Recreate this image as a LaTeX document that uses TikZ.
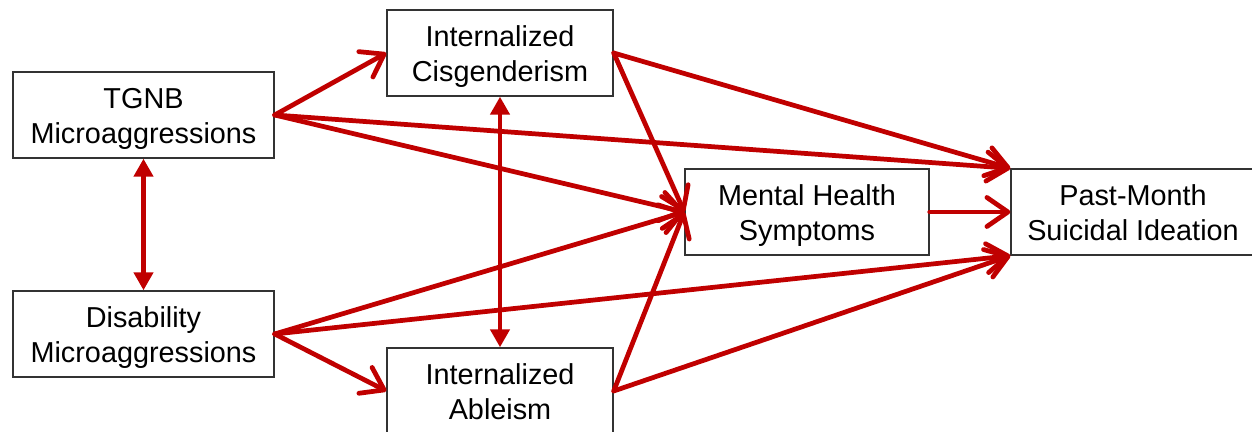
\documentclass[tikz,border=0pt]{standalone}
\usepackage{fontspec}
\setmainfont{Liberation Sans}
\usetikzlibrary{arrows.meta}
\definecolor{pathred}{RGB}{192,0,0}
\newcommand{\boxlines}[1]{\raisebox{-2.4pt}[\height][\depth]{\begin{tabular}{@{}c@{}}#1\end{tabular}}}
\begin{document}
\begin{tikzpicture}[
    box/.style={draw=black!80, line width=0.8pt, minimum height=1.72cm, inner sep=0pt,
                font=\fontsize{16.4}{19.8}\selectfont},
    effect/.style={draw=pathred, line width=2.7pt, line cap=round,
                   -{Straight Barb[length=0.42cm, width=0.58cm, line cap=round, line join=round]}},
    covary/.style={draw=pathred, line width=2.5pt,
                   {Triangle[length=0.36cm, width=0.38cm]}-{Triangle[length=0.36cm, width=0.38cm]}}
  ]
  \useasboundingbox (0,0) rectangle (25.04,8.64);

  % Predictors
  \node[box, minimum width=5.22cm] (tgnb) at (2.87,6.34) {\boxlines{TGNB\\Microaggressions}};
  \node[box, minimum width=5.22cm] (dis)  at (2.87,1.96) {\boxlines{Disability\\Microaggressions}};

  % Mediators
  \node[box, minimum width=4.52cm] (cis) at (10.0,7.58) {\boxlines{Internalized\\Cisgenderism}};
  \node[box, minimum width=4.52cm] (abl) at (10.0,0.82) {\boxlines{Internalized\\Ableism}};
  \node[box, minimum width=4.88cm] (mh)  at (16.14,4.40) {\boxlines{Mental Health\\Symptoms}};

  % Outcome
  \node[box, minimum width=4.88cm] (psi) at (22.66,4.40) {\boxlines{Past-Month\\Suicidal Ideation}};

  \draw[covary] (tgnb.south) -- (dis.north);
  \draw[covary] (cis.south) -- (abl.north);

  \draw[effect] (tgnb.east) -- (cis.west);
  \draw[effect] (tgnb.east) -- (mh.west);
  \draw[effect] (tgnb.east) -- (psi.north west);

  \draw[effect] (dis.east) -- (abl.west);
  \draw[effect] (dis.east) -- (mh.west);
  \draw[effect] (dis.east) -- (psi.south west);

  \draw[effect] (cis.east) -- (mh.west);
  \draw[effect] (cis.east) -- (psi.north west);
  \draw[effect] (abl.east) -- (mh.west);
  \draw[effect] (abl.east) -- (psi.south west);

  \draw[effect] (mh.east) -- (psi.west);
\end{tikzpicture}
\end{document}
